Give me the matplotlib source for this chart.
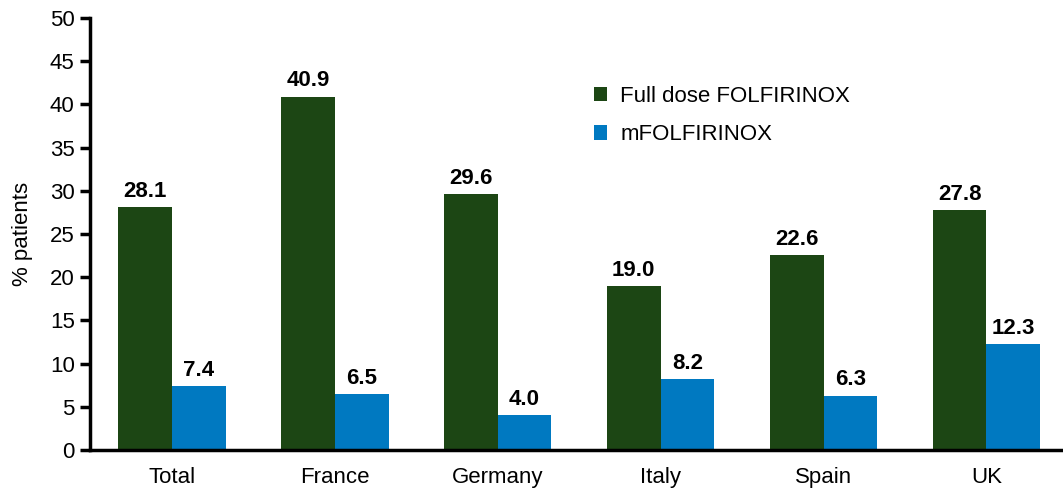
import matplotlib
matplotlib.use("Agg")
import matplotlib.pyplot as plt
import numpy as np

categories = ["Total", "France", "Germany", "Italy", "Spain", "UK"]
full_dose = [28.1, 40.9, 29.6, 19.0, 22.6, 27.8]
mfolfirinox = [7.4, 6.5, 4.0, 8.2, 6.3, 12.3]
series_names = ["Full dose FOLFIRINOX", "mFOLFIRINOX"]
yticks = [0, 5, 10, 15, 20, 25, 30, 35, 40, 45, 50]

green = "#1c4614"
blue = "#0079c1"

plt.rcParams['font.family'] = ['Liberation Sans', 'DejaVu Sans']

fig = plt.figure(figsize=(10.63, 4.93), dpi=100)
ax = fig.add_axes([90/1063, 1-450/493, 1-90/1063, (450-18)/493])

x = np.arange(len(categories))
w = 0.33
b1 = ax.bar(x - w/2, full_dose, w, color=green, label=series_names[0])
b2 = ax.bar(x + w/2, mfolfirinox, w, color=blue, label=series_names[1])

for bars, vals in ((b1, full_dose), (b2, mfolfirinox)):
    for r, v in zip(bars, vals):
        ax.text(r.get_x() + r.get_width()/2, v + 0.6, f"{v:.1f}", ha="center", va="bottom",
                fontsize=16, fontweight="bold", color="black")

ax.set_xlim(-0.503, 5.47)
ax.set_ylim(0, 50)
ax.set_yticks(yticks)
ax.set_xticks(x)
ax.set_xticklabels(categories, fontsize=16)
ax.tick_params(axis='y', labelsize=16, length=7, width=2.5, direction='out', pad=4)
ax.tick_params(axis='x', length=0, pad=12)
for s in ("top", "right"):
    ax.spines[s].set_visible(False)
ax.spines["left"].set_linewidth(2.5)
ax.spines["bottom"].set_linewidth(2.5)
ax.set_ylabel("% patients", fontsize=16, labelpad=12)

ax.legend(frameon=False, fontsize=16, loc="upper left", bbox_to_anchor=(0.497, 0.89),
          handlelength=0.6, handleheight=0.6, handletextpad=0.6, labelspacing=0.8)

fig.savefig("out.png", dpi=100)
